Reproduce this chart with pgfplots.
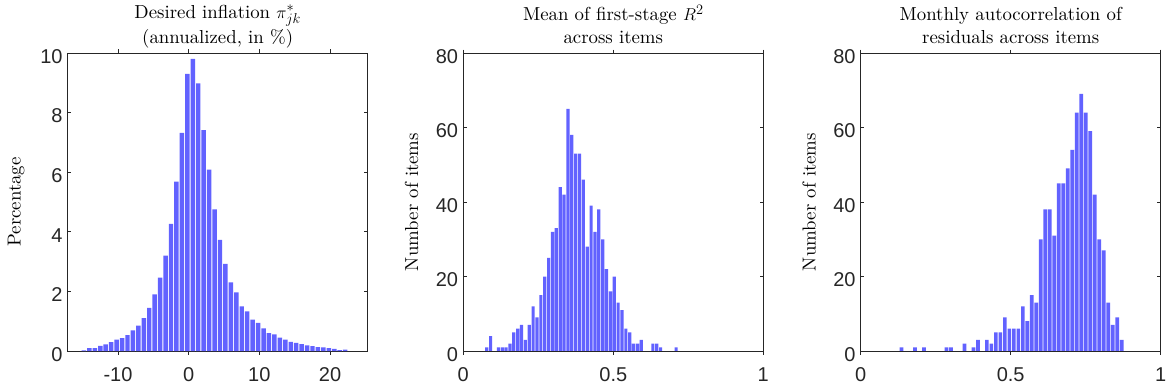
\documentclass[border=0pt]{standalone}
\usepackage{pgfplots}
\pgfplotsset{compat=1.18}
\usepackage{fontspec}
\newfontfamily\tickfont{Liberation Sans}
\newfontfamily\labrm{lmroman10-regular.otf}
\definecolor{barblue}{RGB}{98,98,255}
\definecolor{axgray}{RGB}{38,38,38}
\newcommand\labfont{\labrm\fontsize{18.8bp}{22.6bp}\selectfont}
\pgfplotsset{
  hist/.style={
    scale only axis, width=300bp, height=298bp,
    axis line style={axgray, line width=0.7bp},
    tick style={axgray, line width=0.6bp},
    tick align=inside, major tick length=3.5bp,
    ymin=0,
    /pgf/number format/assume math mode=true,
    tick label style={font=\tickfont\fontsize{20bp}{24bp}\selectfont, text=axgray},
    xticklabel style={inner sep=0pt, anchor=north, yshift=-13bp},
    yticklabel style={inner sep=0pt, anchor=east, xshift=-5bp, yshift=-3.5bp},
    title style={font=\labfont, align=center, anchor=south, at={(0.5,1)}, inner sep=0pt, yshift=-3.1bp},
    ylabel style={font=\labfont, at={(axis description cs:-0.172,0.5)}, anchor=center, inner sep=0pt},
    ybar, bar shift=0pt,
  }
}
\begin{document}
\begin{tikzpicture}
\path[use as bounding box] (0,0) rectangle (1169bp,390bp);
\begin{axis}[hist, at={(67.7bp,39bp)}, anchor=south west,
  xmin=-17.12, xmax=25.33, ymax=10,
  xtick={-10,0,10,20}, ytick={0,2,4,6,8,10},
  title={Desired inflation $\pi^*_{jk}$\\\strut(annualized, in \%)},
  ylabel={Percentage}]
\addplot[fill=barblue, draw=none, bar width=0.63] coordinates {
(-14.82,0.02) (-14.05,0.10) (-13.28,0.10) (-12.51,0.17) (-11.74,0.22) (-10.97,0.30) (-10.20,0.38) (-9.43,0.43) (-8.66,0.53) (-7.89,0.69) (-7.12,0.85) (-6.35,1.10) (-5.58,1.45) (-4.81,1.90) (-4.04,2.46) (-3.27,3.20) (-2.50,4.27) (-1.73,5.68) (-0.96,7.32) (-0.19,9.30) (0.58,9.80) (1.35,8.98) (2.12,7.41) (2.89,6.09) (3.66,4.75) (4.43,3.73) (5.20,2.92) (5.97,2.30) (6.74,1.97) (7.51,1.50) (8.28,1.33) (9.05,1.05) (9.82,0.94) (10.59,0.76) (11.36,0.60) (12.13,0.56) (12.90,0.45) (13.67,0.38) (14.44,0.31) (15.21,0.27) (15.98,0.23) (16.75,0.19) (17.52,0.16) (18.29,0.13) (19.06,0.12) (19.83,0.10) (20.60,0.07) (21.37,0.03) (22.14,0.05)
};
\end{axis}
\begin{axis}[hist, at={(463.3bp,39bp)}, anchor=south west,
  xmin=0, xmax=1, ymax=80,
  xtick={0,0.5,1}, ytick={0,20,40,60,80},
  title={Mean of first-stage $R^2$\\\strut across items},
  ylabel={Number of items}]
\addplot[fill=barblue, draw=none, bar width=0.0106] coordinates {
(0.0782,1) (0.0911,4) (0.1168,1) (0.1297,1) (0.1426,1) (0.1555,2) (0.1684,5) (0.1812,6) (0.1941,7)
(0.2070,3) (0.2199,7) (0.2328,12) (0.2456,9) (0.2585,15) (0.2714,20) (0.2843,25) (0.2972,32) (0.3100,33) (0.3229,44)
(0.3358,42) (0.3487,65) (0.3616,58) (0.3744,53) (0.3873,53) (0.4002,46) (0.4131,28) (0.4260,39) (0.4388,32) (0.4517,38)
(0.4646,30) (0.4775,22) (0.4904,16) (0.5032,20) (0.5161,13) (0.5290,11) (0.5419,6) (0.5548,5) (0.5676,2) (0.5805,2)
(0.5934,3) (0.6320,2) (0.6449,2) (0.6578,1) (0.7093,1)
};
\end{axis}
\begin{axis}[hist, at={(860.7bp,39bp)}, anchor=south west,
  xmin=0, xmax=1, ymax=80,
  xtick={0,0.5,1}, ytick={0,20,40,60,80},
  title={Monthly autocorrelation of\\\strut residuals across items},
  ylabel={Number of items}]
\addplot[fill=barblue, draw=none, bar width=0.0123] coordinates {
(0.1360,1) (0.1809,1) (0.2109,1) (0.2858,1) (0.3008,1) (0.3457,2) (0.3757,1) (0.3907,3) (0.4206,3) (0.4356,2)
(0.4506,5) (0.4656,5) (0.4805,9) (0.4955,6) (0.5105,6) (0.5255,6) (0.5405,12) (0.5554,8) (0.5704,15) (0.5854,13)
(0.6004,30) (0.6154,38) (0.6303,38) (0.6453,31) (0.6603,45) (0.6753,45) (0.6903,49) (0.7052,54) (0.7202,64) (0.7352,69)
(0.7502,64) (0.7652,59) (0.7801,42) (0.7951,30) (0.8101,27) (0.8251,13) (0.8401,7) (0.8550,9) (0.8700,3)
};
\end{axis}
\end{tikzpicture}
\end{document}
